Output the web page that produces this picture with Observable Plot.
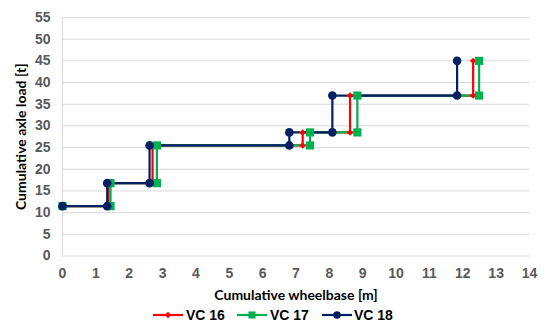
<!DOCTYPE html>
<html>
<head>
<meta charset="utf-8">
<script src="https://cdn.jsdelivr.net/npm/d3@7"></script>
<script src="https://cdn.jsdelivr.net/npm/@observablehq/plot@0.6"></script>
<style>
  body { margin: 0; background: #fff; font-family: "Liberation Sans", Arial, sans-serif; }
  #wrap { width: 550px; height: 330px; position: relative; }
  #legend { position: absolute; left: 0; top: 303px; width: 550px; height: 24px; }
</style>
</head>
<body>
<div id="wrap">
  <div id="chart"></div>
  <div id="legend"></div>
</div>
<script>
// Data
const loads = [11.5, 16.8, 25.5, 28.5, 37, 45];        // cumulative axle load [t]
const vc16 = [0, 1.38, 2.7, 7.2, 8.62, 12.31];          // cumulative wheelbase [m]
const vc17 = [0, 1.44, 2.83, 7.42, 8.84, 12.49];
const vc18 = [0, 1.34, 2.61, 6.8, 8.09, 11.83];
const seriesNames = ["VC 16", "VC 17", "VC 18"];
const colors = ["#ff0000", "#00b050", "#002060"];
const symbols = ["diamond2", "square", "circle"];
const xTicks = [0, 1, 2, 3, 4, 5, 6, 7, 8, 9, 10, 11, 12, 13, 14];
const yTicks = [0, 5, 10, 15, 20, 25, 30, 35, 40, 45, 50, 55];

// Build step points: at each wheelbase position, the previous cumulative load then the new one
function steps(xs, name) {
  const pts = [{x: xs[0], y: loads[0], s: name}];
  for (let i = 1; i < xs.length; i++) {
    pts.push({x: xs[i], y: loads[i - 1], s: name});
    pts.push({x: xs[i], y: loads[i], s: name});
  }
  return pts;
}
const allSeries = [vc16, vc17, vc18].map((xs, i) => steps(xs, seriesNames[i]));

const marks = [
  Plot.ruleY(yTicks, {stroke: "#d9d9d9", strokeWidth: 1}),
  Plot.ruleX([0], {stroke: "#d9d9d9", strokeWidth: 1}),
  Plot.axisX(xTicks, {tickSize: 0, tickPadding: 12, fontSize: 14, fontWeight: "bold", fill: "#595959", label: null}),
  Plot.axisY(yTicks, {tickSize: 0, tickPadding: 12, fontSize: 14, fontWeight: "bold", fill: "#595959", label: null}),
  Plot.text(["Cumulative axle load [t]"], {frameAnchor: "left", dx: -41, rotate: -90, textAnchor: "middle", fontSize: 14, fontWeight: "bold", fill: "#000", fontFamily: "Lato"}),
  Plot.text(["Cumulative wheelbase [m]"], {frameAnchor: "bottom", dy: 40, lineAnchor: "middle", textAnchor: "middle", fontSize: 14, fontWeight: "bold", fill: "#000", fontFamily: "Lato"})
];
allSeries.forEach((pts, i) => {
  marks.push(Plot.line(pts, {x: "x", y: "y", stroke: colors[i], strokeWidth: 2.2}));
});
allSeries.forEach((pts, i) => {
  marks.push(Plot.dot(pts, {x: "x", y: "y", fill: colors[i], stroke: "none", symbol: symbols[i], r: i === 0 ? 2.9 : i === 1 ? 4.6 : 4.3}));
});

const chart = Plot.plot({
  width: 550,
  height: 312,
  marginLeft: 62,
  marginRight: 21,
  marginTop: 17,
  marginBottom: 56.5,
  style: {fontFamily: "'Liberation Sans', Arial, sans-serif", background: "#fff", overflow: "visible"},
  x: {domain: [0, 14]},
  y: {domain: [0, 55]},
  marks
});
document.getElementById("chart").appendChild(chart);

// Legend (SVG built with d3)
const legendItems = [
  {x: 153, tx: 186},
  {x: 237, tx: 270},
  {x: 322, tx: 354}
];
const lg = d3.select("#legend").append("svg").attr("width", 550).attr("height", 24);
legendItems.forEach((it, i) => {
  const g = lg.append("g");
  g.append("line").attr("x1", it.x).attr("x2", it.x + 30).attr("y1", 12).attr("y2", 12)
    .attr("stroke", colors[i]).attr("stroke-width", 2.2);
  const sym = [d3.symbolDiamond2, d3.symbolSquare, d3.symbolCircle][i];
  const size = [26, 50, 45][i];
  g.append("path").attr("d", d3.symbol(sym, size)()).attr("transform", `translate(${it.x + 15},12)`)
    .attr("fill", colors[i]);
  g.append("text").attr("x", it.tx).attr("y", 12).attr("dy", "0.35em")
    .attr("font-size", 14).attr("font-weight", "bold").attr("fill", "#000")
    .attr("font-family", "'Liberation Sans', Arial, sans-serif").text(seriesNames[i]);
});
</script>
</body>
</html>
